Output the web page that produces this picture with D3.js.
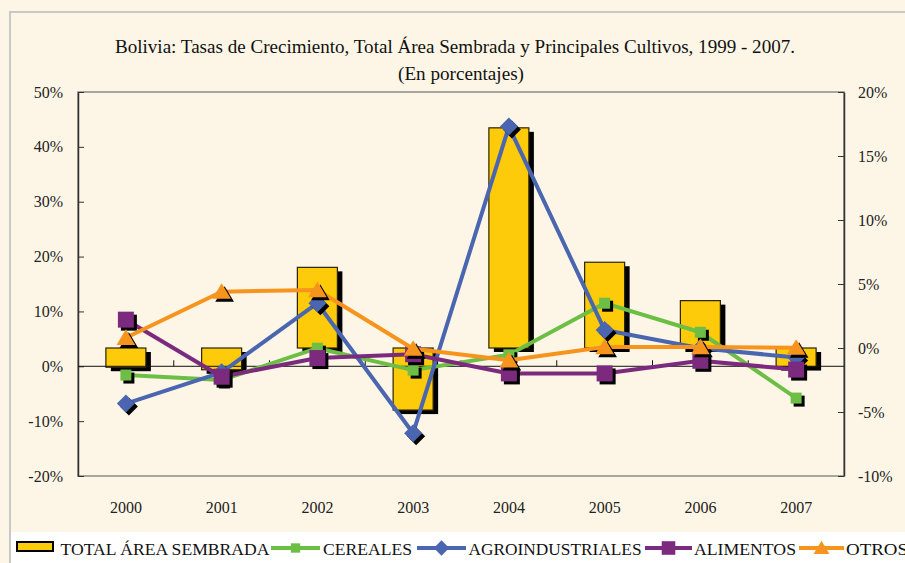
<!DOCTYPE html>
<html>
<head>
<meta charset="utf-8">
<script src="https://cdn.jsdelivr.net/npm/d3@7"></script>
<style>
  html, body { margin: 0; padding: 0; background: #fdf6e6; }
  svg { display: block; }
</style>
</head>
<body>
<script>
// values (percent)
var years = ["2000", "2001", "2002", "2003", "2004", "2005", "2006", "2007"];
var totalArea = [-1.5, -1.7, 6.3, -4.85, 17.2, 6.7, 3.7, -1.45];   // right axis
var cereales = [-1.6, -2.5, 3.3, -0.7, 2.1, 11.5, 6.2, -5.8];       // left axis
var agroindustriales = [-6.8, -1.1, 11.5, -12.2, 43.7, 6.6, 3.3, 1.6];
var alimentos = [8.5, -1.9, 1.5, 2.2, -1.3, -1.3, 1.0, -0.6];
var otros = [5.2, 13.6, 13.9, 3.2, 1.1, 3.5, 3.5, 3.4];
var leftTicks = [-20, -10, 0, 10, 20, 30, 40, 50];
var rightTicks = [-10, -5, 0, 5, 10, 15, 20];
var legendLabels = ["TOTAL ÁREA SEMBRADA", "CEREALES", "AGROINDUSTRIALES", "ALIMENTOS", "OTROS"];

var W = 905, H = 563;
var plot = {left: 78, right: 844, top: 92, bottom: 476};
var FONT = "Liberation Serif";

var svg = d3.select("body").append("svg")
    .attr("width", W)
    .attr("height", H)
    .attr("font-family", FONT);

// outer frame
svg.append("rect").attr("x", 0).attr("y", 0).attr("width", W).attr("height", H).attr("fill", "#fdf6e6");
svg.append("rect").attr("x", 10).attr("y", 12).attr("width", W + 20).attr("height", H + 20)
    .attr("fill", "#fdf6e6").attr("stroke", "#c8c8c8").attr("stroke-width", 2);
svg.append("rect").attr("x", 11).attr("y", 532).attr("width", W).attr("height", 40).attr("fill", "#ffffff");

// title
svg.append("text").attr("x", 455).attr("y", 53).attr("text-anchor", "middle")
    .attr("font-family", FONT).attr("font-size", 18).attr("fill", "#111")
    .attr("textLength", 680).attr("lengthAdjust", "spacingAndGlyphs")
    .text("Bolivia: Tasas de Crecimiento, Total Área Sembrada y Principales Cultivos, 1999 - 2007.");
svg.append("text").attr("x", 461).attr("y", 80).attr("text-anchor", "middle")
    .attr("font-family", FONT).attr("font-size", 18).attr("fill", "#111")
    .attr("textLength", 126).attr("lengthAdjust", "spacingAndGlyphs")
    .text("(En porcentajes)");

// scales
var x = d3.scaleBand().domain(years).range([plot.left, plot.right]);
var yL = d3.scaleLinear().domain([-20, 50]).range([plot.bottom, plot.top]);
var yR = d3.scaleLinear().domain([-10, 20]).range([plot.bottom, plot.top]);

// plot frame
svg.append("rect").attr("x", plot.left).attr("y", plot.top)
    .attr("width", plot.right - plot.left).attr("height", plot.bottom - plot.top)
    .attr("fill", "none").attr("stroke", "#8a8a8a").attr("stroke-width", 1.5);

// axes
var axL = svg.append("g").attr("transform", "translate(" + plot.left + ",0)")
    .call(d3.axisLeft(yL).tickValues(leftTicks).tickFormat(function(d) { return d + "%"; })
        .tickSize(-6).tickSizeOuter(0).tickPadding(15));
var axR = svg.append("g").attr("transform", "translate(" + plot.right + ",0)")
    .call(d3.axisRight(yR).tickValues(rightTicks).tickFormat(function(d) { return d + "%"; })
        .tickSize(-6).tickSizeOuter(0).tickPadding(14));
[axL, axR].forEach(function(a) {
  a.attr("font-family", FONT);
  a.select(".domain").attr("stroke", "#333").attr("stroke-width", 1.5);
  a.selectAll(".tick line").attr("stroke", "#333");
  a.selectAll("text").attr("font-family", FONT).attr("font-size", 16).attr("fill", "#222");
});

// category labels along the bottom
svg.append("g").selectAll("text").data(years).enter().append("text")
    .attr("x", function(d) { return x(d) + x.bandwidth() / 2; })
    .attr("y", 513)
    .attr("text-anchor", "middle").attr("font-family", FONT).attr("font-size", 16).attr("fill", "#222")
    .text(function(d) { return d; });

// bars (secondary axis), with drop shadow
var bw = 40;
var bars = svg.append("g");
years.forEach(function(yr, i) {
  var v = totalArea[i];
  var bx = x(yr) + x.bandwidth() / 2 - bw / 2;
  var top = Math.min(yR(v), yR(0)), h = Math.abs(yR(v) - yR(0));
  bars.append("rect").attr("x", bx + 5).attr("y", top + 4).attr("width", bw).attr("height", h).attr("fill", "#000");
  bars.append("rect").attr("x", bx).attr("y", top).attr("width", bw).attr("height", h)
      .attr("fill", "#fdcb0a").attr("stroke", "#2b2400").attr("stroke-width", 1.2);
});

// category axis line at 0% (left) with boundary ticks
var y0 = yL(0);
svg.append("line").attr("x1", plot.left).attr("x2", plot.right).attr("y1", y0).attr("y2", y0)
    .attr("stroke", "#111").attr("stroke-width", 1);
svg.append("g").selectAll("line").data(years.slice(1)).enter().append("line")
    .attr("x1", function(d) { return x(d); }).attr("x2", function(d) { return x(d); })
    .attr("y1", y0).attr("y2", y0 - 6).attr("stroke", "#111");

// marker shapes
function markerPath(type, s) {
  if (type === "square") return "M" + (-s/2) + "," + (-s/2) + "h" + s + "v" + s + "h" + (-s) + "Z";
  if (type === "diamond") return "M0," + (-s/2) + "L" + (s/2) + ",0L0," + (s/2) + "L" + (-s/2) + ",0Z";
  return "M0," + (-s * 0.5) + "L" + (s * 0.55) + "," + (s * 0.42) + "L" + (-s * 0.55) + "," + (s * 0.42) + "Z";
}

var series = [
  {name: "CEREALES", values: cereales, color: "#6dbe45", marker: "square", size: 11},
  {name: "AGROINDUSTRIALES", values: agroindustriales, color: "#4a66b0", marker: "diamond", size: 18},
  {name: "ALIMENTOS", values: alimentos, color: "#7b2a7e", marker: "square", size: 16},
  {name: "OTROS", values: otros, color: "#f7941e", marker: "triangle", size: 17}
];

var line = d3.line()
    .x(function(d, i) { return x(years[i]) + x.bandwidth() / 2; })
    .y(function(d) { return yL(d); });

series.forEach(function(s) {
  var g = svg.append("g");
  g.append("path").datum(s.values).attr("d", line)
      .attr("fill", "none").attr("stroke", s.color).attr("stroke-width", 4).attr("stroke-linejoin", "round");
  s.values.forEach(function(v, i) {
    var cx = x(years[i]) + x.bandwidth() / 2, cy = yL(v);
    g.append("path").attr("d", markerPath(s.marker, s.size))
        .attr("transform", "translate(" + (cx + 3) + "," + (cy + 3) + ")").attr("fill", "#000");
    g.append("path").attr("d", markerPath(s.marker, s.size))
        .attr("transform", "translate(" + cx + "," + cy + ")").attr("fill", s.color);
  });
});

// legend
var leg = svg.append("g").attr("font-family", FONT).attr("font-size", 17).attr("fill", "#111");
var legY = 555;
// bar swatch
leg.append("rect").attr("x", 17).attr("y", 542).attr("width", 36).attr("height", 9)
    .attr("fill", "#fdcb0a").attr("stroke", "#000").attr("stroke-width", 2);
var textPos = [[60.5, 209], [323, 89], [468.5, 173], [694, 102], [846, 62]];
var linePos = [null, [271, 320], [417, 466], [645, 692], [799, 844]];
legendLabels.forEach(function(lbl, i) {
  leg.append("text").attr("x", textPos[i][0]).attr("y", legY).attr("font-family", FONT)
      .attr("textLength", textPos[i][1]).attr("lengthAdjust", "spacingAndGlyphs").text(lbl);
  if (i > 0) {
    var s = series[i - 1], lp = linePos[i], mx = (lp[0] + lp[1]) / 2;
    leg.append("line").attr("x1", lp[0]).attr("x2", lp[1]).attr("y1", 548).attr("y2", 548)
        .attr("stroke", s.color).attr("stroke-width", 4);
    leg.append("path").attr("d", markerPath(s.marker, s.size * 0.85))
        .attr("transform", "translate(" + mx + ",548)").attr("fill", s.color);
  }
});
</script>
</body>
</html>
